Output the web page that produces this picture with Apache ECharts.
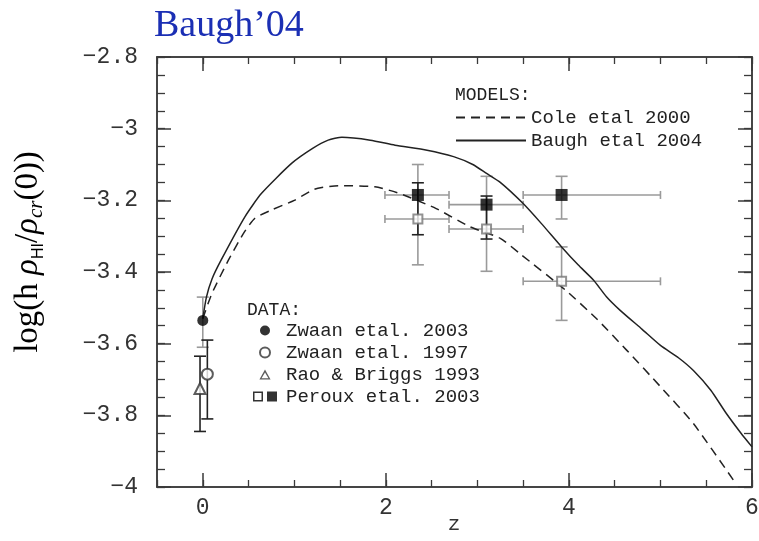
<!DOCTYPE html>
<html>
<head>
<meta charset="utf-8">
<script src="https://cdn.jsdelivr.net/npm/echarts@6/dist/echarts.min.js"></script>
<style>
html, body { margin: 0; padding: 0; background: #fff; }
#chart { width: 759px; height: 541px; }
</style>
</head>
<body>
<div id="chart"></div>
<script>
// model curves
const baughZ = [0, 0.04, 0.1, 0.2, 0.46, 0.64, 0.97, 1.2, 1.37, 1.52, 1.83, 2.1, 2.45, 2.74, 2.95, 3.1, 3.25, 3.5, 3.7, 3.92, 4.1, 4.27, 4.41, 4.56, 4.8, 5.0, 5.2, 5.36, 5.55, 5.72, 5.88, 6.0];
const baughY = [-3.53, -3.47, -3.42, -3.367, -3.246, -3.181, -3.097, -3.055, -3.032, -3.024, -3.032, -3.046, -3.06, -3.078, -3.1, -3.125, -3.15, -3.209, -3.265, -3.33, -3.38, -3.423, -3.469, -3.507, -3.56, -3.605, -3.64, -3.675, -3.73, -3.795, -3.85, -3.888];
const coleZ = [0, 0.1, 0.28, 0.45, 0.57, 0.75, 1.0, 1.22, 1.48, 1.88, 2.15, 2.55, 2.92, 3.25, 3.46, 3.96, 4.3, 4.63, 5.0, 5.36, 5.8];
const coleY = [-3.53, -3.46, -3.367, -3.29, -3.25, -3.227, -3.2, -3.169, -3.159, -3.162, -3.181, -3.223, -3.274, -3.306, -3.348, -3.45, -3.53, -3.618, -3.72, -3.823, -3.982];

// observations
const zwaan03 = [[0, -3.535]];
const zwaan97 = [[0.05, -3.685]];
const raoBriggs = [[-0.03, -3.725]];
const perouxFilled = [[2.35, -3.185], [3.1, -3.212], [3.92, -3.185]];
const perouxOpen = [[2.35, -3.252], [3.1, -3.28], [3.92, -3.426]];

// error bars: [z, y, zLow, zHigh, yLow, yHigh]
const greyErrors = [
	[0, -3.535, null, null, -3.61, -3.47],
	[2.35, -3.185, 1.99, 2.69, -3.38, -3.10],
	[3.1, -3.212, 2.69, 3.5, -3.398, -3.133],
	[3.92, -3.185, 3.5, 5.0, -3.252, -3.133],
	[2.35, -3.252, 1.99, 2.69, null, null],
	[3.1, -3.28, 2.69, 3.5, null, null],
	[3.92, -3.426, 3.5, 5.0, -3.535, -3.33]
];
const darkErrors = [
	[0.05, -3.685, null, null, -3.81, -3.59],
	[-0.03, -3.725, null, null, -3.845, -3.635],
	[2.35, -3.252, null, null, -3.296, -3.151],
	[3.1, -3.28, null, null, -3.308, -3.188]
];

const xLabels = [0, 2, 4, 6];
const yLabels = [-4, -3.8, -3.6, -3.4, -3.2, -3, -2.8];

const mono = 'Liberation Mono';
const axisColor = '#3a3a3a';

function zip(xs, ys) {
	return xs.map((x, i) => [x, ys[i]]);
}

function errorBars(color) {
	return function (params, api) {
		const x = api.value(0), y = api.value(1);
		const xl = api.value(2), xh = api.value(3);
		const yl = api.value(4), yh = api.value(5);
		const st = { stroke: color, lineWidth: 1.6 };
		const kids = [];
		const seg = (x1, y1, x2, y2) => kids.push({ type: 'line', shape: { x1, y1, x2, y2 }, style: st });
		if (isFinite(yl) && yl !== null) {
			const a = api.coord([x, yl]), b = api.coord([x, yh]);
			seg(a[0], a[1], b[0], b[1]);
			seg(a[0] - 6, a[1], a[0] + 6, a[1]);
			seg(b[0] - 6, b[1], b[0] + 6, b[1]);
		}
		if (isFinite(xl) && xl !== null) {
			const a = api.coord([xl, y]), b = api.coord([xh, y]);
			seg(a[0], a[1], b[0], b[1]);
			seg(a[0], a[1] - 4, a[0], a[1] + 4);
			seg(b[0], b[1] - 4, b[0], b[1] + 4);
		}
		return { type: 'group', children: kids };
	};
}

function xAxisDef(pos, major) {
	return {
		type: 'value', position: pos, min: -0.5, max: 6,
		interval: major ? undefined : 0.5,
		axisLine: { show: true, onZero: false, lineStyle: { color: axisColor, width: 1.5 } },
		axisTick: major ? { inside: true, length: 14, customValues: xLabels, lineStyle: { color: axisColor, width: 1.5 } }
			: { inside: true, length: 7, lineStyle: { color: axisColor, width: 1.3 } },
		axisLabel: (major && pos === 'bottom') ? {
			customValues: xLabels, margin: 9, fontFamily: mono, fontSize: 23, color: '#333',
			formatter: v => String(v)
		} : { show: false },
		splitLine: { show: false }
	};
}

function yAxisDef(pos, major) {
	return {
		type: 'value', position: pos, min: -4, max: -2.8,
		interval: major ? undefined : 0.05,
		axisLine: { show: true, onZero: false, lineStyle: { color: axisColor, width: 1.5 } },
		axisTick: major ? { inside: true, length: 14, customValues: yLabels, lineStyle: { color: axisColor, width: 1.5 } }
			: { inside: true, length: 8, lineStyle: { color: axisColor, width: 1.3 } },
		axisLabel: (major && pos === 'left') ? {
			customValues: yLabels, margin: 19, fontFamily: mono, fontSize: 23, color: '#333',
			formatter: v => String(Math.round(v * 10) / 10).replace('-', '\u2212')
		} : { show: false },
		splitLine: { show: false }
	};
}

const chart = echarts.init(document.getElementById('chart'), null, { renderer: 'canvas' });

const option = {
	animation: false,
	backgroundColor: '#fff',
	grid: { left: 157, right: 7, top: 57, bottom: 54, outerBoundsMode: 'none', containLabel: false },
	title: [
		{ text: 'Baugh\u201904', left: 154, top: 7, padding: 0,
			textStyle: { fontFamily: 'Liberation Serif', fontSize: 38, fontWeight: 'normal', color: '#1b2fb4' } },
		{ text: 'MODELS:', left: 455, top: 86, padding: 0,
			textStyle: { fontFamily: mono, fontSize: 18, fontWeight: 'normal', color: '#222' } },
		{ text: 'DATA:', left: 247, top: 301, padding: 0,
			textStyle: { fontFamily: mono, fontSize: 18, fontWeight: 'normal', color: '#222' } }
	],
	legend: [
		{
			data: ['Cole etal 2000', 'Baugh etal 2004'],
			orient: 'vertical', left: 455, top: 108, padding: 0,
			itemWidth: 70, itemHeight: 14, itemGap: 4, selectedMode: false,
			itemStyle: { opacity: 0 },
			textStyle: { fontFamily: mono, fontSize: 19, color: '#222' }
		},
		{
			data: [
				{ name: 'Zwaan etal. 2003', icon: 'circle' },
				{ name: 'Zwaan etal. 1997', icon: 'emptyCircle' },
				{ name: 'Rao & Briggs 1993', icon: 'path://M5,0L10,9L0,9ZM5,2.6L1.9,7.8L8.1,7.8Z' },
				{ name: 'Peroux etal. 2003', icon: 'path://M0,0h10v10h-10zM1.5,1.5v7h7v-7zM14,0h10v10h-10z' }
			],
			orient: 'vertical', left: 253, top: 321, padding: 0,
			itemWidth: 32, itemHeight: 10, itemGap: 3, selectedMode: false,
			textStyle: { fontFamily: mono, fontSize: 19, color: '#222', lineHeight: 18 }
		}
	],
	graphic: [
		{
			type: 'text', x: 28, y: 252, rotation: Math.PI / 2,
			style: {
				text: '{a|log(h }{g|\u03c1}{s|HI}{a|/}{g|\u03c1}{c|cr}{a|(0))}',
				align: 'center', verticalAlign: 'middle',
				rich: {
					a: { fontFamily: 'Liberation Serif', fontSize: 33, color: '#222', lineHeight: 38 },
					g: { fontFamily: 'Liberation Serif', fontStyle: 'italic', fontSize: 33, color: '#222', lineHeight: 38 },
					s: { fontFamily: 'Liberation Sans', fontSize: 16, color: '#222', verticalAlign: 'bottom', lineHeight: 38 },
					c: { fontFamily: 'Liberation Serif', fontStyle: 'italic', fontSize: 21, color: '#222', verticalAlign: 'bottom', lineHeight: 38 }
				}
			}
		},
		{
			type: 'text', x: 454, y: 524,
			style: {
				text: 'z', align: 'center', verticalAlign: 'middle',
				fontFamily: mono, fontSize: 21, fill: '#333'
			}
		}
	],
	xAxis: [xAxisDef('bottom', true), xAxisDef('top', true), xAxisDef('bottom', false), xAxisDef('top', false)],
	yAxis: [yAxisDef('left', true), yAxisDef('right', true), yAxisDef('left', false), yAxisDef('right', false)],
	series: [
		{
			name: 'Cole etal 2000', type: 'line', data: zip(coleZ, coleY), smooth: 0.2,
			symbol: 'none', color: '#222',
			lineStyle: { color: '#222', width: 1.5, type: [9, 6] }
		},
		{
			name: 'Baugh etal 2004', type: 'line', data: zip(baughZ, baughY), smooth: 0.2,
			symbol: 'none', color: '#222',
			lineStyle: { color: '#222', width: 1.5 }
		},
		{ name: 'grey errors', type: 'custom', data: greyErrors, renderItem: errorBars('#9a9a9a'), z: 1 },
		{ name: 'dark errors', type: 'custom', data: darkErrors, renderItem: errorBars('#222'), z: 2 },
		{
			name: 'Zwaan etal. 2003', type: 'scatter', data: zwaan03, symbol: 'circle', symbolSize: 11,
			itemStyle: { color: '#000' }, z: 5
		},
		{
			name: 'Zwaan etal. 1997', type: 'scatter', data: zwaan97, symbol: 'emptyCircle', symbolSize: 11,
			itemStyle: { color: '#333', borderWidth: 1.3 }, z: 5
		},
		{
			name: 'Rao & Briggs 1993', type: 'scatter', data: raoBriggs, symbol: 'emptyTriangle', symbolSize: 11,
			itemStyle: { color: '#333', borderWidth: 1.3 }, z: 5
		},
		{
			name: 'Peroux open', type: 'scatter', data: perouxOpen, symbol: 'emptyRect', symbolSize: 9,
			itemStyle: { color: '#777', borderWidth: 1.3 }, z: 5
		},
		{
			name: 'Peroux etal. 2003', type: 'scatter', data: perouxFilled, symbol: 'rect', symbolSize: 12,
			itemStyle: { color: '#000' }, z: 6
		}
	]
};

chart.setOption(option);
</script>
</body>
</html>
